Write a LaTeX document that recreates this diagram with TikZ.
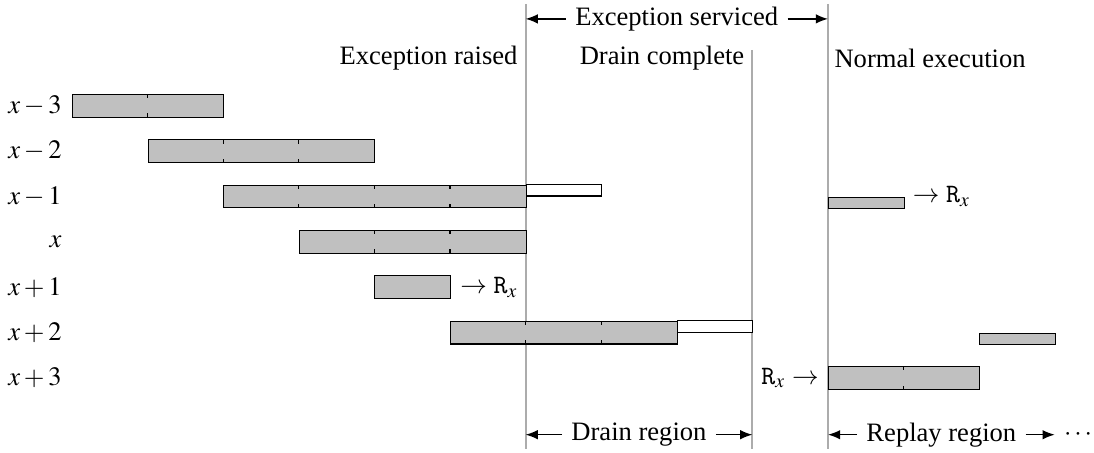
\documentclass[tikz,border=0pt]{standalone}
\usepackage{mathptmx}
\usepackage{fontspec}
\setmainfont{Liberation Serif}
\usetikzlibrary{positioning, arrows.meta}
\definecolor{BarGray}{RGB}{192,192,192}
\definecolor{RuleGray}{RGB}{172,172,172}

\begin{document}
\begin{tikzpicture}[
  bar/.style={draw=black, fill=BarGray, line width=0.4pt, minimum height=3mm, inner sep=0pt, anchor=west},
  tophalf/.style={bar, fill=white, minimum height=1.5mm, anchor=south west},
  bothalf/.style={bar, minimum height=1.5mm, anchor=north west},
  rule/.style={draw=RuleGray, line width=0.7pt},
  span/.style={-{Latex[length=4.6pt,width=3.6pt]}, line width=0.55pt},
  rowlabel/.style={anchor=east, inner sep=0pt},
  tickmark/.style={line width=0.4pt}
]
\useasboundingbox (-0.952,0) rectangle (13.519,-5.979);

% event lines (drawn first, bars sit on top)
\coordinate (raise) at (6,-0.05);
\coordinate (drain) at (9,-0.66);
\coordinate (resume) at (10,-0.05);
\draw[rule] (raise) -- (6,-5.94) coordinate (raiseb);
\draw[rule] (drain) -- (9,-5.94) coordinate (drainb);
\draw[rule] (resume) -- (10,-5.94) coordinate (resumeb);

% event names
\node[anchor=east, inner sep=1mm] (raised) at (6,-0.77) {Exception raised};
\node[anchor=east, inner sep=1mm] (drained) at (9,-0.77) {Drain complete};
\node[anchor=west, inner sep=0.8mm] (normal) at (10,-0.77) {Normal execution};

\node (serv) at (8,-0.25) {Exception serviced};
\draw[span] (serv.west) -- (serv.west -| raise);
\draw[span] (serv.east) -- (serv.east -| resume);

% row labels
\node[rowlabel] (lm3) at (-0.13,-1.4) {$x-3$};
\node[rowlabel] (lm2) at (-0.13,-2.0) {$x-2$};
\node[rowlabel] (lm1) at (-0.13,-2.6) {$x-1$};
\node[rowlabel] (l0)  at (-0.13,-3.2) {$x$};
\node[rowlabel] (lp1) at (-0.13,-3.8) {$x+1$};
\node[rowlabel] (lp2) at (-0.13,-4.4) {$x+2$};
\node[rowlabel] (lp3) at (-0.13,-5.0) {$x+3$};

% instructions in flight
\node[bar, minimum width=2cm] (xm3) at (0,-1.4) {};
\node[bar, minimum width=3cm] (xm2) at (1,-2.0) {};
\node[bar, minimum width=4cm] (xm1) at (2,-2.6) {};
\node[tophalf, minimum width=1cm] (xm1w) at (6,-2.6) {};
\node[bothalf, minimum width=1cm] (xm1r) at (10,-2.6) {};
\node[anchor=west] (rxa) at (11,-2.6) {$\rightarrow$ \texttt{R}$_x$};

\node[bar, minimum width=3cm] (x0) at (3,-3.2) {};

\node[bar, minimum width=1cm] (xp1) at (4,-3.8) {};
\node[right=0pt of xp1] (rxb) {$\rightarrow$ \texttt{R}$_x$};

\node[bar, minimum width=3cm] (xp2) at (5,-4.4) {};
\node[tophalf, minimum width=1cm] (xp2w) at (8,-4.4) {};
\node[bothalf, minimum width=1cm] (xp2r) at (12,-4.4) {};

\node[bar, minimum width=2cm] (xp3) at (10,-5.0) {};
\node[left=0pt of xp3] (rxc) {\texttt{R}$_x$ $\rightarrow$};

% stage boundaries inside the bars
\foreach \k/\y in {1/-1.4, 2/-2.0, 3/-2.0, 3/-2.6, 4/-2.6, 5/-2.6,
                   4/-3.2, 5/-3.2, 6/-4.4, 7/-4.4, 11/-5.0}
  \draw[tickmark] (\k,\y+0.15) -- ++(0,-0.05) (\k,\y-0.15) -- ++(0,0.05);

% regions
\node (dreg) at (7.5,-5.75) {Drain region};
\draw[span] (dreg.west) -- (dreg.west -| raiseb);
\draw[span] (dreg.east) -- (dreg.east -| drainb);

\node (rreg) at (11.5,-5.75) {Replay region};
\coordinate (rend) at (13,-5.75);
\draw[span] (rreg.west) -- (rreg.west -| resumeb);
\draw[span] (rreg.east) -- (rend);
\node[anchor=west] (more) at (rend) {$\cdots$};
\end{tikzpicture}
\end{document}
